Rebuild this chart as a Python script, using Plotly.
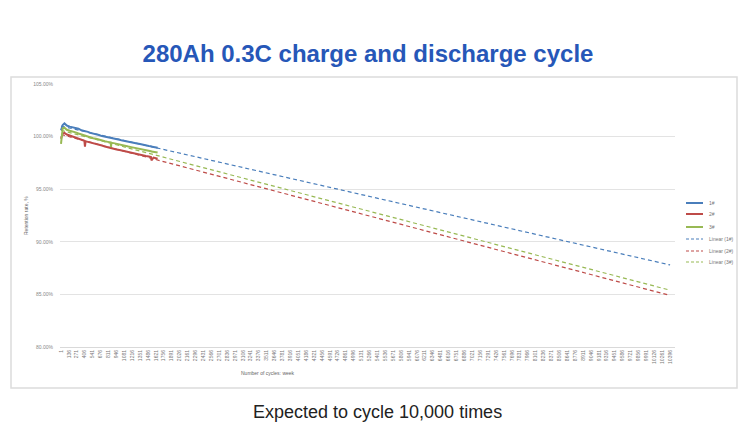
import plotly.graph_objects as go

# measured capacity retention (%), cycles 1 .. ~1650
cycles = [1, 30, 60, 100, 150, 200, 250, 300, 350, 400, 410, 420, 460, 500, 550, 600, 650, 700,
          750, 800, 850, 855, 860, 900, 950, 1000, 1050, 1100, 1150, 1200, 1250, 1300, 1350,
          1400, 1450, 1500, 1537, 1545, 1580, 1620, 1650]
cell1 = [100.6, 101.1, 101.25, 101.05, 100.95, 100.9, 100.8, 100.75, 100.6, 100.55, 100.5, 100.5,
         100.45, 100.35, 100.3, 100.2, 100.15, 100.05, 100.0, 99.95, 99.9, 99.85, 99.85, 99.8,
         99.75, 99.7, 99.62, 99.58, 99.5, 99.48, 99.4, 99.35, 99.3, 99.22, 99.18, 99.1, 99.08,
         99.05, 99.02, 98.98, 98.95]
cell2 = [99.8, 100.3, 100.35, 100.2, 100.1, 100.0, 99.9, 99.8, 99.7, 99.6, 99.05, 99.55,
         99.5, 99.45, 99.35, 99.3, 99.2, 99.15, 99.05, 99.0, 98.95, 98.9, 98.9, 98.85,
         98.78, 98.72, 98.65, 98.6, 98.52, 98.48, 98.4, 98.35, 98.28, 98.22, 98.15, 98.1, 98.05,
         97.75, 98.0, 97.95, 97.9]
cell3 = [99.3, 100.8, 100.85, 100.65, 100.55, 100.5, 100.4, 100.3, 100.2, 100.15, 100.1, 100.1,
         100.05, 99.95, 99.85, 99.8, 99.7, 99.65, 99.55, 99.5, 99.45, 99.0, 99.4, 99.38,
         99.3, 99.25, 99.18, 99.12, 99.05, 99.0, 98.95, 98.88, 98.82, 98.75, 98.7, 98.65, 98.6,
         98.58, 98.55, 98.5, 98.48]

# linear trend lines (start / end values)
trend_x = [1, 10396]
trend1 = [101.0, 87.8]
trend2 = [100.2, 84.9]
trend3 = [100.6, 85.4]

tick_cycles = [1, 136, 271, 406, 541, 676, 811, 946, 1081, 1216, 1351, 1486, 1621, 1756, 1891,
               2026, 2161, 2296, 2431, 2566, 2701, 2836, 2971, 3106, 3241, 3376, 3511, 3646,
               3781, 3916, 4051, 4186, 4321, 4456, 4591, 4726, 4861, 4996, 5131, 5266, 5401,
               5536, 5671, 5806, 5941, 6076, 6211, 6346, 6481, 6616, 6751, 6886, 7021, 7156,
               7291, 7426, 7561, 7696, 7831, 7966, 8101, 8236, 8371, 8506, 8641, 8776, 8911,
               9046, 9181, 9316, 9451, 9586, 9721, 9856, 9991, 10126, 10261, 10396]
y_ticks = [80, 85, 90, 95, 100, 105]
y_labels = ["80.00%", "85.00%", "90.00%", "95.00%", "100.00%", "105.00%"]
legend_names = ["1#", "2#", "3#", "Linear (1#)", "Linear (2#)", "Linear (3#)"]

BLUE = "#4a7ebb"
RED = "#be4b48"
GREEN = "#98b954"
FONT = "Liberation Sans, Arial"
DASH = "4px,3px"

fig = go.Figure()
for ys, col in [(trend1, BLUE), (trend2, RED), (trend3, GREEN)]:
    fig.add_trace(go.Scatter(x=trend_x, y=ys, mode="lines", line=dict(color=col, width=1.2, dash=DASH)))
for ys, col in [(cell1, BLUE), (cell2, RED), (cell3, GREEN)]:
    fig.add_trace(go.Scatter(x=cycles, y=ys, mode="lines", line=dict(color=col, width=2)))

# page body has an 8px margin, so the figure is offset by 8px
OFF = 8
W, H = 750 - OFF, 438 - OFF
# plot area in screen px: x 60..675, y 84..347
ml, mr = 60 - OFF, 750 - 675
mt, mb = 84 - OFF, 438 - 347
pw, ph = W - ml - mr, H - mt - mb


def px(x):
    return (x - OFF - ml) / pw


def py(y):
    return (H - mb - (y - OFF)) / ph


fig.add_shape(type="rect", xref="paper", yref="paper", x0=px(11), x1=px(737), y0=py(388), y1=py(77),
              line=dict(color="#dcdcdc", width=1.5), fillcolor="rgba(0,0,0,0)", layer="below")

# legend drawn by hand (Excel-like compact legend)
legend_cols = [BLUE, RED, GREEN, BLUE, RED, GREEN]
legend_y = [203, 214, 227, 239, 251, 262]
for i, name in enumerate(legend_names):
    solid = i < 3
    fig.add_shape(type="line", xref="paper", yref="paper", x0=px(686), x1=px(703),
                  y0=py(legend_y[i]), y1=py(legend_y[i]),
                  line=dict(color=legend_cols[i], width=2 if solid else 1.2,
                            dash="solid" if solid else "3px,2px"))
    fig.add_annotation(text=name, xref="paper", yref="paper", x=px(707), y=py(legend_y[i]),
                       xanchor="left", yanchor="middle", showarrow=False,
                       font=dict(family=FONT, size=5, color="#777777"))

fig.add_annotation(text="Expected to cycle 10,000 times", xref="paper", yref="paper",
                   x=px(377), y=py(412), xanchor="center", yanchor="middle", showarrow=False,
                   font=dict(family=FONT, size=18, color="#222222"))
fig.add_annotation(text="Number of cycles: week", xref="paper", yref="paper",
                   x=px(268), y=py(373), xanchor="center", yanchor="middle", showarrow=False,
                   font=dict(family=FONT, size=5, color="#666666"))
fig.add_annotation(text="Retention rate, %", xref="paper", yref="paper",
                   x=px(26), y=py(216), xanchor="center", yanchor="middle", showarrow=False,
                   textangle=-90, font=dict(family=FONT, size=5, color="#666666"))

fig.update_layout(
    width=W, height=H,
    template="plotly_white",
    paper_bgcolor="white", plot_bgcolor="white",
    margin=dict(l=ml, r=mr, t=mt, b=mb),
    title=dict(text="<b>280Ah 0.3C charge and discharge cycle</b>", x=(368 - OFF) / W, xanchor="center",
               y=1 - (54 - OFF) / H, yanchor="middle",
               font=dict(family=FONT, size=24, color="#2657b8")),
    showlegend=False,
    xaxis=dict(range=[-16, 10480], tickvals=tick_cycles, ticktext=[str(c) for c in tick_cycles],
               tickangle=-90, showgrid=False, zeroline=False, showline=True, linecolor="#d9d9d9",
               tickfont=dict(family=FONT, size=5, color="#777777"), ticks=""),
    yaxis=dict(range=[80, 105], tickvals=y_ticks, ticktext=y_labels, showgrid=True,
               gridcolor="#e3e3e3", zeroline=False, showline=False, ticklabelstandoff=6,
               tickfont=dict(family=FONT, size=5, color="#888888"), ticks=""),
)

fig.write_html("out.html")
